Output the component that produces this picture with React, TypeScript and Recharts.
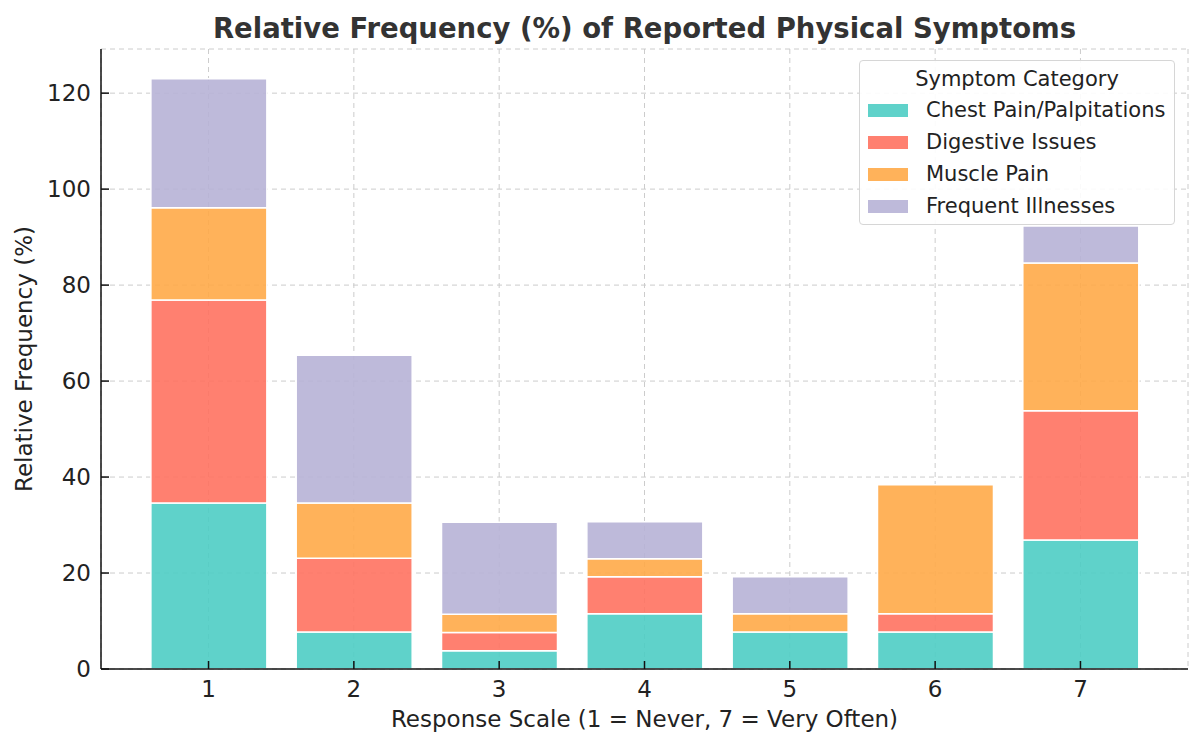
import React from 'react';
import { BarChart, Bar, XAxis, YAxis, CartesianGrid, Legend, Label } from 'recharts';

const categories = [1, 2, 3, 4, 5, 6, 7];
const chestPain = [34.6, 7.7, 3.8, 11.5, 7.7, 7.7, 26.9];
const digestive = [42.3, 15.4, 3.8, 7.7, 0, 3.8, 26.9];
const musclePain = [19.2, 11.5, 3.8, 3.8, 3.8, 26.9, 30.8];
const frequentIll = [26.9, 30.8, 19.2, 7.7, 7.7, 0, 7.7];
const yTicks = [0, 20, 40, 60, 80, 100, 120];

const seriesNames = ['Chest Pain/Palpitations', 'Digestive Issues', 'Muscle Pain', 'Frequent Illnesses'];
const seriesKeys = ['chest', 'digestive', 'muscle', 'frequent'];
const seriesColors = ['#4ECDC4', '#FF7260', '#FFAA48', '#B7B2D6'];

const data = categories.map((c, i) => ({
  scale: c,
  chest: chestPain[i],
  digestive: digestive[i],
  muscle: musclePain[i],
  frequent: frequentIll[i],
}));

const FONT = '"DejaVu Sans", sans-serif';

const LegendBox = () => {
  return (
    <div
      style={{
        width: 316,
        height: 165,
        boxSizing: 'border-box',
        border: '1px solid #d6d6d6',
        borderRadius: 4,
        background: 'rgba(255,255,255,0.9)',
        fontFamily: FONT,
        color: '#222',
        paddingTop: 5,
      }}
    >
      <div style={{ textAlign: 'center', fontSize: 21, lineHeight: '26px', marginBottom: 2 }}>Symptom Category</div>
      {seriesNames.map((name, i) => (
        <div key={name} style={{ display: 'flex', alignItems: 'center', height: 32, paddingLeft: 8 }}>
          <span style={{ width: 40, height: 13, background: seriesColors[i], opacity: 0.9, display: 'inline-block', flex: 'none' }} />
          <span style={{ marginLeft: 18, fontSize: 21, whiteSpace: 'nowrap' }}>{name}</span>
        </div>
      ))}
    </div>
  );
};

export default function App() {
  return (
    <div style={{ position: 'absolute', left: 0, top: 0, width: 1200, height: 740, background: '#fff' }}>
      <div
        style={{
          position: 'absolute',
          left: 101,
          width: 1087,
          top: 12,
          textAlign: 'center',
          fontFamily: FONT,
          fontWeight: 'bold',
          fontSize: 27.5,
          color: '#333',
          whiteSpace: 'nowrap',
        }}
      >
        Relative Frequency (%) of Reported Physical Symptoms
      </div>
      <BarChart
        width={1200}
        height={740}
        data={data}
        margin={{ top: 49, right: 12, bottom: 0, left: 0 }}
        style={{ fontFamily: FONT }}
      >
        <CartesianGrid stroke="#cccccc" strokeDasharray="5 4" strokeWidth={1} />
        <XAxis
          type="number"
          dataKey="scale"
          domain={[0.26, 7.74]}
          ticks={categories}
          allowDataOverflow
          height={71}
          tickSize={-8}
          tickMargin={20}
          axisLine={{ stroke: '#111', strokeWidth: 1.5 }}
          tickLine={{ stroke: '#111', strokeWidth: 1.5 }}
          tick={{ fill: '#222', fontSize: 23, fontFamily: FONT }}
        >
          <Label
            value="Response Scale (1 = Never, 7 = Very Often)"
            position="insideBottom"
            offset={13}
            style={{ fill: '#222', fontSize: 23, fontFamily: FONT }}
          />
        </XAxis>
        <YAxis
          type="number"
          domain={[0, 129.2]}
          ticks={yTicks}
          allowDataOverflow
          width={101}
          tickSize={-8}
          tickMargin={18}
          axisLine={{ stroke: '#111', strokeWidth: 1.5 }}
          tickLine={{ stroke: '#111', strokeWidth: 1.5 }}
          tick={{ fill: '#222', fontSize: 23, fontFamily: FONT }}
        >
          <Label
            content={(p: any) => {
              const vb = p.viewBox || {};
              const cx = vb.x + 24;
              const cy = vb.y + vb.height / 2;
              return (
                <text
                  x={cx}
                  y={cy}
                  transform={`rotate(-90, ${cx}, ${cy})`}
                  textAnchor="middle"
                  dominantBaseline="central"
                  style={{ fill: '#222', fontSize: 23, fontFamily: FONT }}
                >
                  Relative Frequency (%)
                </text>
              );
            }}
          />
        </YAxis>
        <Legend
          layout="vertical"
          align="center"
          verticalAlign="middle"
          content={<LegendBox />}
          wrapperStyle={{ position: 'absolute', left: 859, top: 60, width: 316 }}
        />
        {seriesKeys.map((k, i) => (
          <Bar
            key={k}
            dataKey={k}
            name={seriesNames[i]}
            stackId="a"
            fill={seriesColors[i]}
            fillOpacity={0.9}
            stroke="#ffffff"
            strokeWidth={1.5}
            barSize={116}
            isAnimationActive={false}
          />
        ))}
      </BarChart>
    </div>
  );
}
